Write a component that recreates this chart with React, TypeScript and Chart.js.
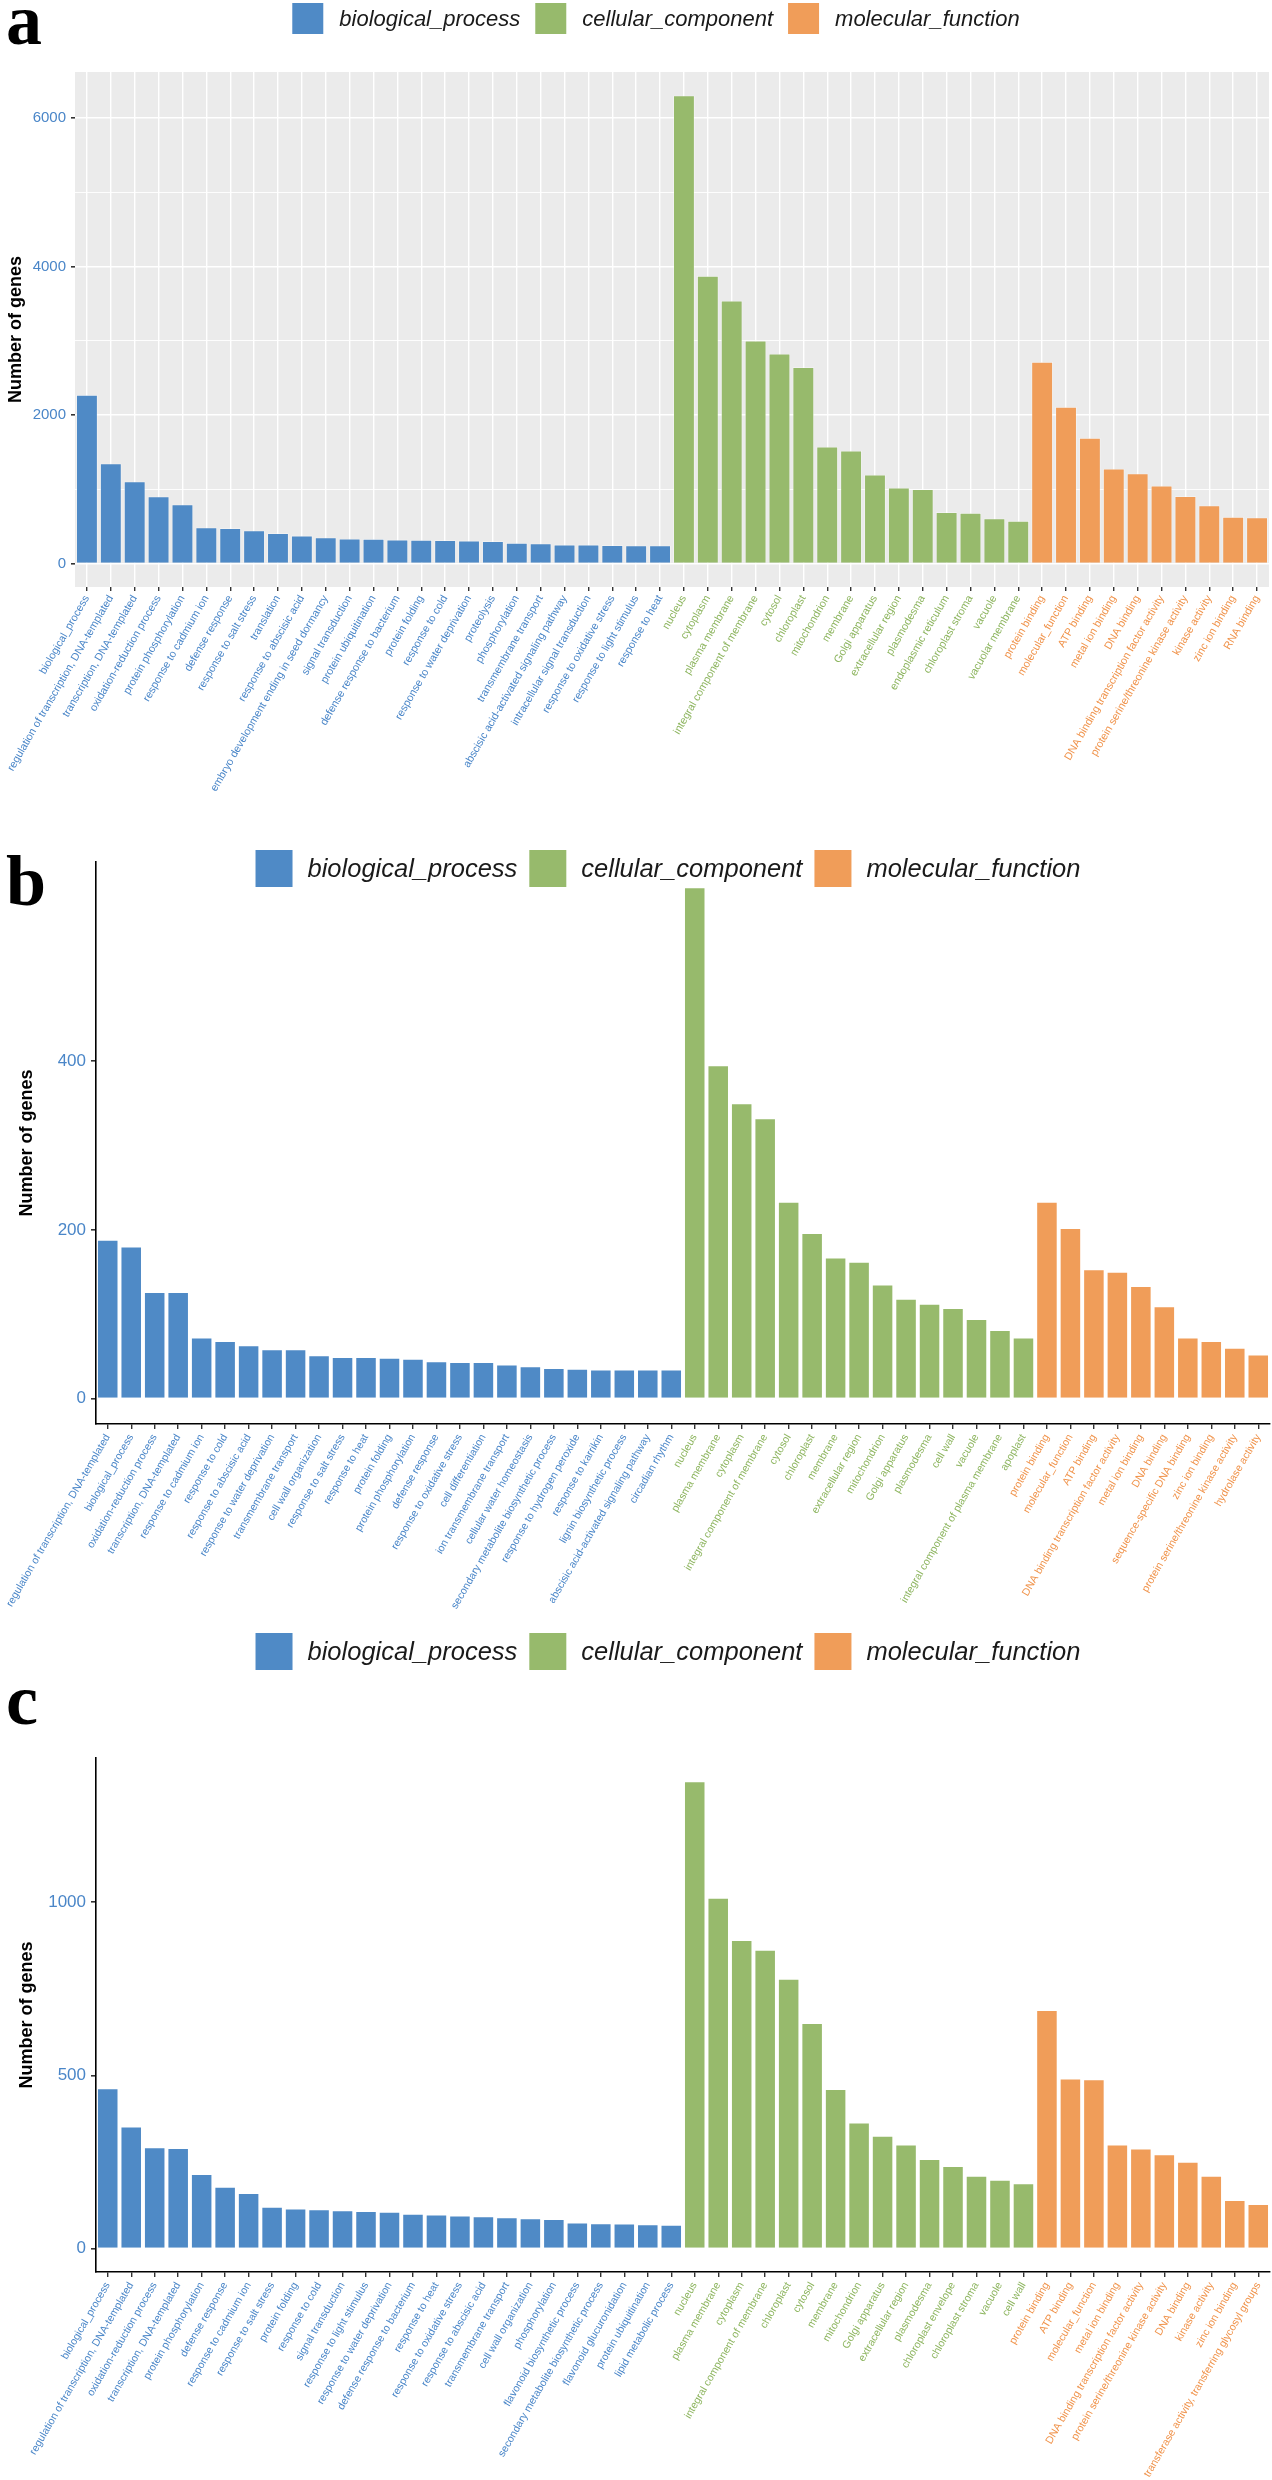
import React, { useEffect, useRef } from 'react';
import { Chart, registerables } from 'chart.js';

Chart.register(...registerables);

// ---------------- data ----------------
const seriesNames = ['biological_process', 'cellular_component', 'molecular_function'];

// Panel a
const bpLabelsA = [
  'biological_process', 'regulation of transcription, DNA-templated', 'transcription, DNA-templated',
  'oxidation-reduction process', 'protein phosphorylation', 'response to cadmium ion', 'defense response',
  'response to salt stress', 'translation', 'response to abscisic acid', 'embryo development ending in seed dormancy',
  'signal transduction', 'protein ubiquitination', 'defense response to bacterium', 'protein folding',
  'response to cold', 'response to water deprivation', 'proteolysis', 'phosphorylation', 'transmembrane transport',
  'abscisic acid-activated signaling pathway', 'intracellular signal transduction', 'response to oxidative stress',
  'response to light stimulus', 'response to heat',
];
const bpValuesA = [2271, 1349, 1106, 904, 796, 486, 477, 445, 410, 377, 353, 335, 331, 323, 319, 314, 310, 301, 279, 270, 256, 256, 247, 243, 243];
const ccLabelsA = [
  'nucleus', 'cytoplasm', 'plasma membrane', 'integral component of membrane', 'cytosol', 'chloroplast',
  'mitochondrion', 'membrane', 'Golgi apparatus', 'extracellular region', 'plasmodesma', 'endoplasmic reticulum',
  'chloroplast stroma', 'vacuole', 'vacuolar membrane',
];
const ccValuesA = [6307, 3876, 3540, 3004, 2828, 2644, 1574, 1520, 1196, 1021, 1003, 692, 683, 607, 576];
const mfLabelsA = [
  'protein binding', 'molecular_function', 'ATP binding', 'metal ion binding', 'DNA binding',
  'DNA binding transcription factor activity', 'protein serine/threonine kinase activity', 'kinase activity',
  'zinc ion binding', 'RNA binding',
];
const mfValuesA = [2716, 2109, 1691, 1277, 1214, 1048, 908, 782, 629, 620];
const yTicksA = [0, 1000, 2000, 3000, 4000, 5000, 6000];
const yLabelTicksA = [0, 2000, 4000, 6000];

// Panel b
const bpLabelsB = [
  'regulation of transcription, DNA-templated', 'biological_process', 'oxidation-reduction process',
  'transcription, DNA-templated', 'response to cadmium ion', 'response to cold', 'response to abscisic acid',
  'response to water deprivation', 'transmembrane transport', 'cell wall organization', 'response to salt stress',
  'response to heat', 'protein folding', 'protein phosphorylation', 'defense response', 'response to oxidative stress',
  'cell differentiation', 'ion transmembrane transport', 'cellular water homeostasis',
  'secondary metabolite biosynthetic process', 'response to hydrogen peroxide', 'response to karrikin',
  'lignin biosynthetic process', 'abscisic acid-activated signaling pathway', 'circadian rhythm',
];
const bpValuesB = [188, 180, 126, 126, 72, 68, 63, 58, 58, 51, 49, 49, 48, 47, 44, 43, 43, 40, 38, 36, 35, 34, 34, 34, 34];
const ccLabelsB = [
  'nucleus', 'plasma membrane', 'cytoplasm', 'integral component of membrane', 'cytosol', 'chloroplast',
  'membrane', 'extracellular region', 'mitochondrion', 'Golgi apparatus', 'plasmodesma', 'cell wall', 'vacuole',
  'integral component of plasma membrane', 'apoplast',
];
const ccValuesB = [606, 395, 350, 332, 233, 196, 167, 162, 135, 118, 112, 107, 94, 81, 72];
const mfLabelsB = [
  'protein binding', 'molecular_function', 'ATP binding', 'DNA binding transcription factor activity',
  'metal ion binding', 'DNA binding', 'sequence-specific DNA binding', 'zinc ion binding',
  'protein serine/threonine kinase activity', 'hydrolase activity',
];
const mfValuesB = [233, 202, 153, 150, 133, 109, 72, 68, 60, 52];
const yTicksB = [0, 200, 400];

// Panel c
const bpLabelsC = [
  'biological_process', 'regulation of transcription, DNA-templated', 'oxidation-reduction process',
  'transcription, DNA-templated', 'protein phosphorylation', 'defense response', 'response to cadmium ion',
  'response to salt stress', 'protein folding', 'response to cold', 'signal transduction',
  'response to light stimulus', 'response to water deprivation', 'defense response to bacterium',
  'response to heat', 'response to oxidative stress', 'response to abscisic acid', 'transmembrane transport',
  'cell wall organization', 'phosphorylation', 'flavonoid biosynthetic process',
  'secondary metabolite biosynthetic process', 'flavonoid glucuronidation', 'protein ubiquitination',
  'lipid metabolic process',
];
const bpValuesC = [462, 352, 292, 290, 215, 178, 160, 120, 115, 113, 110, 108, 106, 100, 98, 95, 93, 90, 87, 85, 75, 73, 72, 70, 68];
const ccLabelsC = [
  'nucleus', 'plasma membrane', 'cytoplasm', 'integral component of membrane', 'chloroplast', 'cytosol',
  'membrane', 'mitochondrion', 'Golgi apparatus', 'extracellular region', 'plasmodesma', 'chloroplast envelope',
  'chloroplast stroma', 'vacuole', 'cell wall',
];
const ccValuesC = [1348, 1012, 890, 862, 778, 650, 460, 363, 325, 300, 258, 238, 210, 198, 188];
const mfLabelsC = [
  'protein binding', 'ATP binding', 'molecular_function', 'metal ion binding',
  'DNA binding transcription factor activity', 'protein serine/threonine kinase activity', 'DNA binding',
  'kinase activity', 'zinc ion binding', 'transferase activity, transferring glycosyl groups',
];
const mfValuesC = [688, 490, 488, 300, 288, 272, 250, 210, 140, 128];
const yTicksC = [0, 500, 1000];

// ---------------- style ----------------
const BAR_COLORS = ['#4F8AC6', '#97BA6C', '#F09D59'];
const TEXT_COLORS = ['#4A86C8', '#8DB55F', '#F0934B'];
const SANS = '"Liberation Sans", Arial, Helvetica, sans-serif';

const decorPlugin = {
  id: 'decor',
  beforeDraw(chart: any, _args: any, opts: any) {
    if (opts.panelBg) {
      const { left, top, width, height } = chart.chartArea;
      const ctx = chart.ctx;
      ctx.save();
      ctx.fillStyle = opts.panelBg;
      ctx.fillRect(left, top, width, height);
      ctx.restore();
    }
  },
  afterDraw(chart: any, _args: any, opts: any) {
    const ctx = chart.ctx;
    ctx.save();
    ctx.font = `bold ${opts.letterSize}px "Liberation Serif", "Times New Roman", serif`;
    ctx.fillStyle = '#000';
    ctx.textBaseline = 'alphabetic';
    ctx.textAlign = 'left';
    ctx.fillText(opts.letter, opts.letterX, opts.letterY);

    ctx.font = `italic ${opts.legendFont}px ${SANS}`;
    const ds = chart.data.datasets;
    const widths = ds.map((d: any) => ctx.measureText(d.label).width);
    const itemW = widths.map((w: number) => opts.box + opts.boxGap + w);
    const total = itemW.reduce((a: number, b: number) => a + b, 0) + opts.itemGap * (ds.length - 1);
    let x = opts.legendCx - total / 2;
    ds.forEach((d: any, i: number) => {
      ctx.fillStyle = d.backgroundColor;
      ctx.fillRect(x, opts.legendTop, opts.box, opts.box);
      ctx.fillStyle = '#1a1a1a';
      ctx.textBaseline = 'middle';
      ctx.fillText(d.label, x + opts.box + opts.boxGap, opts.legendTop + opts.box / 2 + 1);
      x += itemW[i] + opts.itemGap;
    });
    ctx.restore();
  },
};

type PanelProps = {
  bpL: string[]; bpV: number[]; ccL: string[]; ccV: number[]; mfL: string[]; mfV: number[];
  yTicks: number[]; yLabelTicks: number[];
  geom: any;
};

function Panel({ bpL, bpV, ccL, ccV, mfL, mfV, yTicks, yLabelTicks, geom }: PanelProps) {
  const ref = useRef<HTMLCanvasElement | null>(null);
  useEffect(() => {
    if (!ref.current) return;
    const nB = bpL.length, nC = ccL.length, nM = mfL.length;
    const labels = [...bpL, ...ccL, ...mfL];
    const fill = (n: number) => Array(n).fill(null);
    const all = [...bpV, ...ccV, ...mfV];
    const vmax = Math.max(...all);
    const group = (i: number) => (i < nB ? 0 : i < nB + nC ? 1 : 2);
    const grey = geom.grey;
    const mk = (k: number, data: (number | null)[]) => ({
      label: seriesNames[k],
      data,
      backgroundColor: BAR_COLORS[k],
      borderColor: 'rgba(255,255,255,0.55)',
      borderWidth: 0.8,
      barPercentage: 0.9,
      categoryPercentage: 1.0,
      grouped: false,
    });
    const chart = new Chart(ref.current, {
      type: 'bar',
      data: {
        labels,
        datasets: [
          mk(0, [...bpV, ...fill(nC + nM)]),
          mk(1, [...fill(nB), ...ccV, ...fill(nM)]),
          mk(2, [...fill(nB + nC), ...mfV]),
        ],
      },
      options: {
        responsive: false,
        animation: false,
        devicePixelRatio: 1,
        layout: { padding: { top: geom.padTop, left: 0, right: geom.padRight, bottom: 0 } },
        plugins: {
          legend: { display: false },
          tooltip: { enabled: false },
          decor: geom.decor,
        } as any,
        scales: {
          x: {
            type: 'category',
            offset: true,
            grid: {
              display: true,
              offset: false,
              drawOnChartArea: grey,
              color: '#FFFFFF',
              lineWidth: 1.4,
              tickColor: '#333333',
              tickLength: geom.xTickLen,
            },
            border: { display: !grey, color: '#000', width: 1.6 },
            ticks: {
              autoSkip: false,
              maxRotation: 60,
              minRotation: 60,
              padding: geom.xTickPad,
              font: { family: SANS, size: geom.xFont },
              color: (c: any) => TEXT_COLORS[group(c.index)],
            },
            afterFit: (s: any) => {
              s.height = geom.xHeight;
              s.paddingLeft = 0; s.paddingRight = 0; s.paddingTop = 0; s.paddingBottom = 0;
            },
          },
          y: {
            type: 'linear',
            min: -0.05 * vmax,
            max: 1.05 * vmax,
            afterBuildTicks: (s: any) => { s.ticks = yTicks.map((v) => ({ value: v })); },
            grid: {
              display: true,
              drawOnChartArea: grey,
              color: '#FFFFFF',
              lineWidth: (c: any) => (c.tick && yLabelTicks.includes(c.tick.value) ? 1.6 : 0.9),
              tickColor: (c: any) => (c.tick && yLabelTicks.includes(c.tick.value) ? '#333333' : 'rgba(0,0,0,0)'),
              tickLength: geom.yTickLen,
            },
            border: { display: !grey, color: '#000', width: 1.6 },
            ticks: {
              padding: geom.yTickPad,
              font: { family: SANS, size: geom.yFont },
              color: '#4A86C8',
              callback: (v: any) => (yLabelTicks.includes(Number(v)) ? String(v) : ''),
            },
            title: {
              display: true,
              text: 'Number of genes',
              color: '#000',
              font: { family: SANS, size: 18, weight: 'bold' },
              padding: { top: geom.titlePad, bottom: 0 },
            },
            afterFit: (s: any) => {
              s.width = geom.yWidth;
              s.paddingTop = 0; s.paddingBottom = 0;
            },
          },
        },
      } as any,
      plugins: [decorPlugin as any],
    });
    return () => chart.destroy();
  }, []);
  return (
    <div style={{ position: 'absolute', left: 0, top: geom.top, width: 1272, height: geom.height }}>
      <canvas ref={ref} width={1272} height={geom.height} style={{ width: 1272, height: geom.height, display: 'block' }} />
    </div>
  );
}

const geomA = {
  top: 0, height: 810, padTop: 72, padRight: 3, yWidth: 75, xHeight: 223, grey: true,
  xTickLen: 4, xTickPad: 2, xFont: 10.8, yTickLen: 4, yTickPad: 5, yFont: 15, titlePad: 5,
  decor: {
    panelBg: '#EBEBEB', letter: 'a', letterSize: 72, letterX: 6, letterY: 44,
    legendCx: 656, legendTop: 3, box: 31, boxGap: 16, itemGap: 15, legendFont: 22,
  },
};
const geomB = {
  top: 810, height: 815, padTop: 52, padRight: 2, yWidth: 96, xHeight: 201, grey: false,
  xTickLen: 5, xTickPad: 3, xFont: 10.6, yTickLen: 5, yTickPad: 5, yFont: 17, titlePad: 16,
  decor: {
    panelBg: null, letter: 'b', letterSize: 72, letterX: 6, letterY: 95,
    legendCx: 668, legendTop: 40, box: 37, boxGap: 15, itemGap: 12, legendFont: 25.5,
  },
};
const geomC = {
  top: 1625, height: 855, padTop: 133, padRight: 2, yWidth: 96, xHeight: 208, grey: false,
  xTickLen: 5, xTickPad: 3, xFont: 10.6, yTickLen: 5, yTickPad: 5, yFont: 17, titlePad: 16,
  decor: {
    panelBg: null, letter: 'c', letterSize: 72, letterX: 6, letterY: 99,
    legendCx: 668, legendTop: 8, box: 37, boxGap: 15, itemGap: 12, legendFont: 25.5,
  },
};

export default function App() {
  return (
    <div style={{ position: 'absolute', left: 0, top: 0, width: 1272, height: 2480, background: '#fff' }}>
      <Panel bpL={bpLabelsA} bpV={bpValuesA} ccL={ccLabelsA} ccV={ccValuesA} mfL={mfLabelsA} mfV={mfValuesA}
        yTicks={yTicksA} yLabelTicks={yLabelTicksA} geom={geomA} />
      <Panel bpL={bpLabelsB} bpV={bpValuesB} ccL={ccLabelsB} ccV={ccValuesB} mfL={mfLabelsB} mfV={mfValuesB}
        yTicks={yTicksB} yLabelTicks={yTicksB} geom={geomB} />
      <Panel bpL={bpLabelsC} bpV={bpValuesC} ccL={ccLabelsC} ccV={ccValuesC} mfL={mfLabelsC} mfV={mfValuesC}
        yTicks={yTicksC} yLabelTicks={yTicksC} geom={geomC} />
    </div>
  );
}
